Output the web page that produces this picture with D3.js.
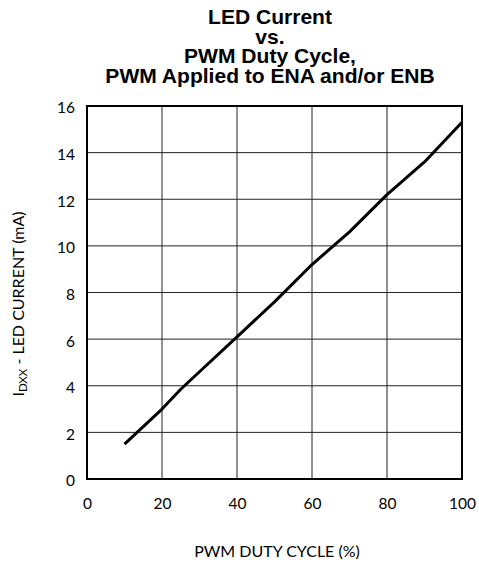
<!DOCTYPE html>
<html>
<head>
<meta charset="utf-8">
<script src="https://cdn.jsdelivr.net/npm/d3@7"></script>
<style>
  body { margin: 0; background: #fff; }
  text { fill: #000; }
</style>
</head>
<body>
<script>
// values
const dutyCycle = [10, 20, 25, 30, 40, 50, 60, 70, 80, 90, 100];
const ledCurrent = [1.5, 3.0, 3.85, 4.6, 6.1, 7.6, 9.2, 10.6, 12.2, 13.6, 15.3];
const xTicks = [0, 20, 40, 60, 80, 100];
const yTicks = [0, 2, 4, 6, 8, 10, 12, 14, 16];
const titleLines = ["LED Current", "vs.", "PWM Duty Cycle,", "PWM Applied to ENA and/or ENB"];

const width = 479;
const height = 563;
const margin = { top: 106, right: 17, bottom: 84, left: 87 };

const svg = d3.select("body").append("svg")
  .attr("width", width)
  .attr("height", height);

const x = d3.scaleLinear().domain([0, 100]).range([margin.left, width - margin.right]);
const y = d3.scaleLinear().domain([0, 16]).range([height - margin.bottom, margin.top]);

const labelFont = "Lato, 'Open Sans', sans-serif";

// grid
svg.append("g")
  .selectAll("line")
  .data(xTicks)
  .join("line")
  .attr("x1", d => x(d)).attr("x2", d => x(d))
  .attr("y1", y(0)).attr("y2", y(16))
  .attr("stroke", "#222").attr("stroke-width", 1);

svg.append("g")
  .selectAll("line")
  .data(yTicks)
  .join("line")
  .attr("x1", x(0)).attr("x2", x(100))
  .attr("y1", d => y(d)).attr("y2", d => y(d))
  .attr("stroke", "#222").attr("stroke-width", 1);

// frame
svg.append("rect")
  .attr("x", x(0)).attr("y", y(16))
  .attr("width", x(100) - x(0)).attr("height", y(0) - y(16))
  .attr("fill", "none").attr("stroke", "#000").attr("stroke-width", 2);

// tick labels only, no tick marks
const xAxis = d3.axisBottom(x).tickValues(xTicks).tickSize(0).tickPadding(19);
const yAxis = d3.axisLeft(y).tickValues(yTicks).tickSize(0).tickPadding(12);

svg.append("g")
  .attr("transform", `translate(0,${y(0)})`)
  .call(xAxis)
  .call(g => g.select(".domain").remove())
  .selectAll("text")
  .attr("font-family", labelFont).attr("font-size", 15.5).attr("fill", "#000");

svg.append("g")
  .attr("transform", `translate(${x(0)},0)`)
  .call(yAxis)
  .call(g => g.select(".domain").remove())
  .selectAll("text")
  .attr("dy", "0.45em")
  .attr("font-family", labelFont).attr("font-size", 15.5).attr("fill", "#000");

// data line
const line = d3.line()
  .x((d, i) => x(dutyCycle[i]))
  .y(d => y(d));

svg.append("path")
  .datum(ledCurrent)
  .attr("d", line)
  .attr("fill", "none")
  .attr("stroke", "#000")
  .attr("stroke-width", 3)
  .attr("stroke-linejoin", "round");

// title, slightly stretched like the original
svg.append("g")
  .selectAll("text")
  .data(titleLines)
  .join("text")
  .attr("transform", (d, i) => `translate(270,${24 + i * 19.5}) scale(1.08,1)`)
  .attr("text-anchor", "middle")
  .attr("font-family", "'Liberation Sans', Arial, sans-serif")
  .attr("font-weight", "bold")
  .attr("font-size", 19.5)
  .text(d => d);

// x title
svg.append("text")
  .attr("x", 277)
  .attr("y", 557)
  .attr("text-anchor", "middle")
  .attr("font-family", labelFont)
  .attr("font-size", 16)
  .text("PWM DUTY CYCLE (%)");

// y title
const yTitle = svg.append("text")
  .attr("transform", "translate(23.5,304) rotate(-90)")
  .attr("text-anchor", "middle")
  .attr("font-family", labelFont)
  .attr("font-size", 16);
yTitle.append("tspan").text("I");
yTitle.append("tspan").attr("font-size", 11.5).attr("dy", 3).text("DXX");
yTitle.append("tspan").attr("dy", -3).text(" - LED CURRENT (mA)");
</script>
</body>
</html>
